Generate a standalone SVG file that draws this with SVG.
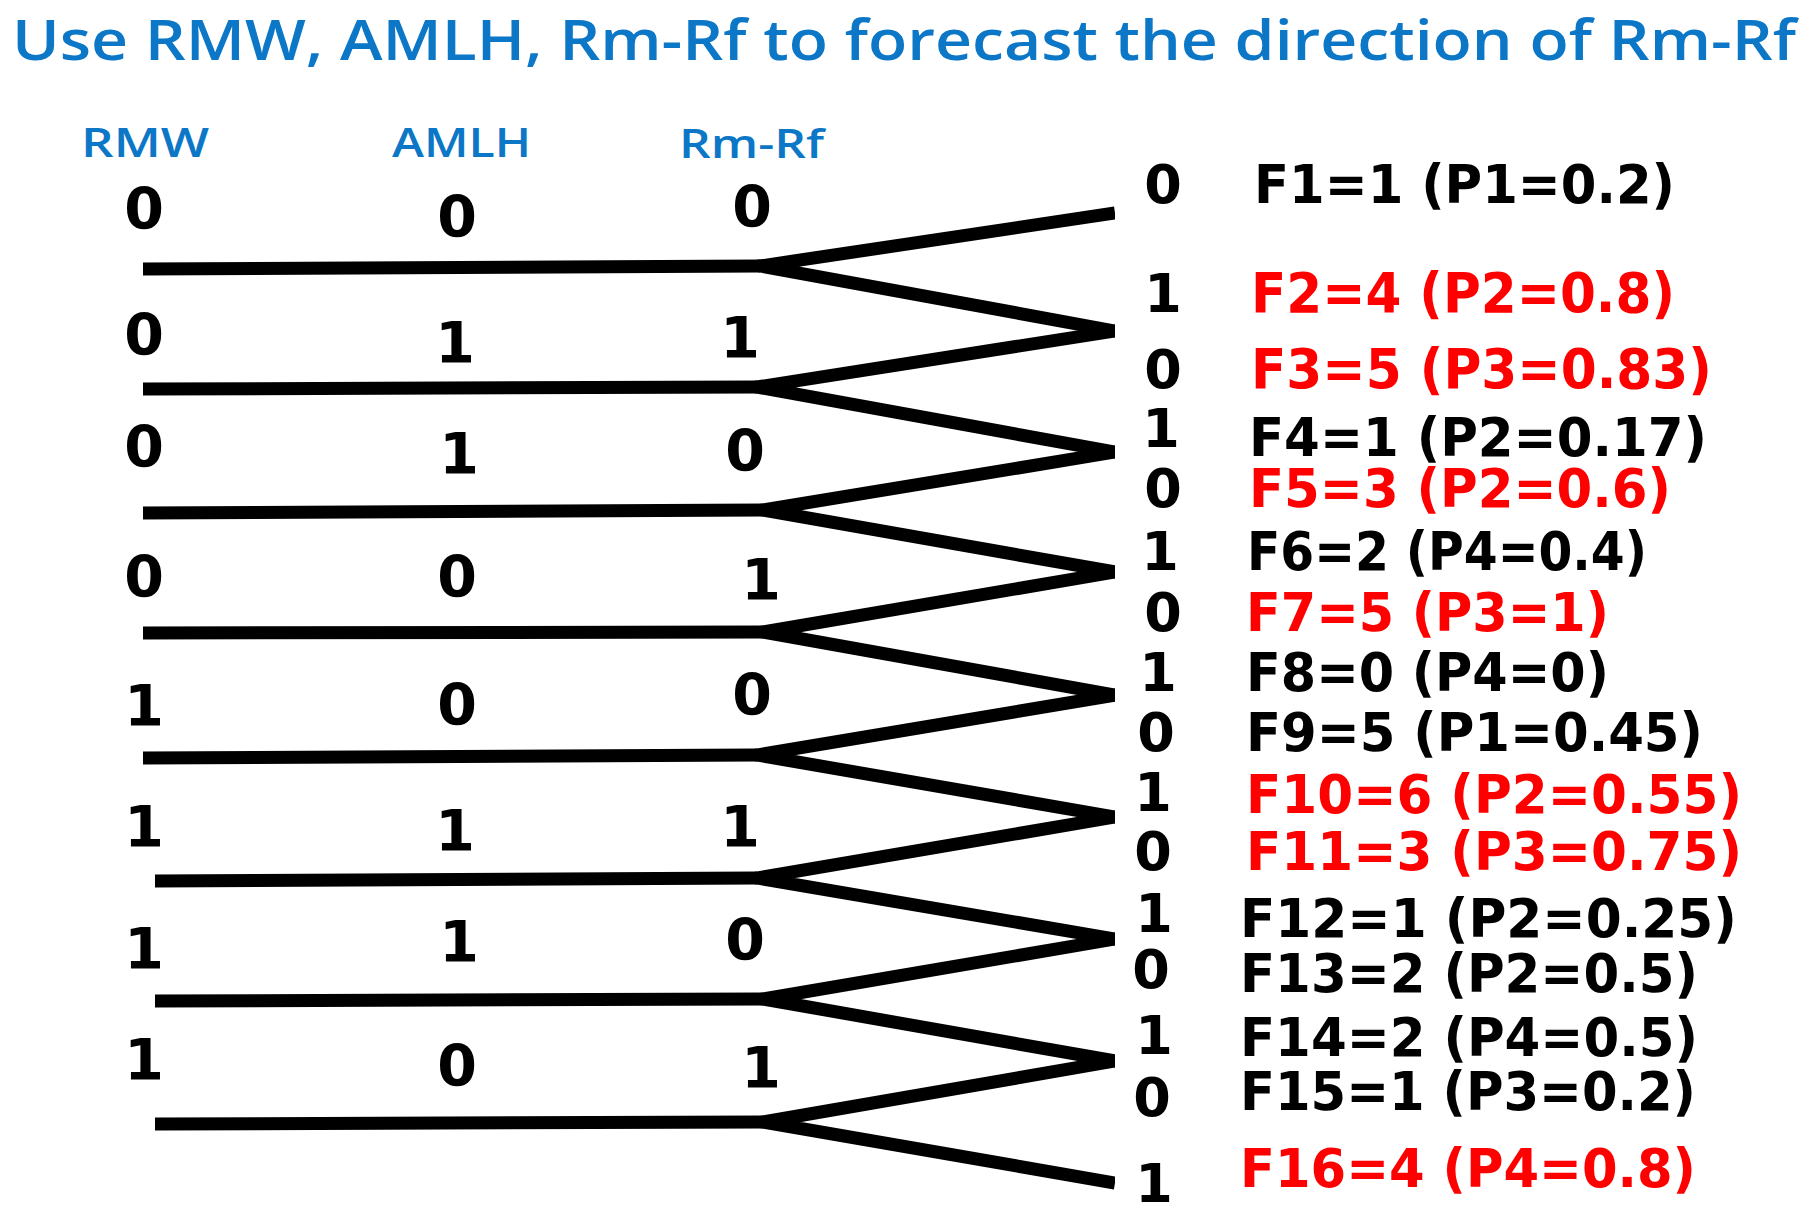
<svg xmlns="http://www.w3.org/2000/svg" width="1819" height="1220" viewBox="0 0 1819 1220">
<defs>
<style>
.title{font-family:"Open Sans","Noto Sans",sans-serif;font-weight:600;font-size:56px;fill:#0B77C6}
.hdr{font-family:"Open Sans","Noto Sans",sans-serif;font-weight:600;font-size:40px;fill:#0B77C6}
.dl{font-family:"DejaVu Sans",sans-serif;font-weight:bold;font-size:57px;fill:#000;text-anchor:middle}
.dr{font-family:"DejaVu Sans",sans-serif;font-weight:bold;font-size:54px;fill:#000;text-anchor:middle}
.lb{font-family:"DejaVu Sans",sans-serif;font-weight:bold;font-size:54px;fill:#000}
.red{fill:#FF0000}
.big{font-size:56px}
.ln{fill:none;stroke:#000;stroke-width:13;stroke-linecap:butt;stroke-linejoin:miter;stroke-miterlimit:10}
</style>
<clipPath id="cl"><rect x="0" y="0" width="1115" height="1220"/></clipPath>
</defs>
<rect width="1819" height="1220" fill="#fff"/>
<text class="title" x="12" y="60" textLength="1784" lengthAdjust="spacingAndGlyphs">Use RMW, AMLH, Rm-Rf to forecast the direction of Rm-Rf</text>
<g id="headers">
<text class="hdr" x="81" y="157" textLength="128" lengthAdjust="spacingAndGlyphs">RMW</text>
<text class="hdr" x="392" y="157" textLength="139" lengthAdjust="spacingAndGlyphs">AMLH</text>
<text class="hdr" x="679" y="158" textLength="145" lengthAdjust="spacingAndGlyphs">Rm-Rf</text>
</g>
<g id="connectors" clip-path="url(#cl)">
<path class="ln" d="M143,269 L760,266"/>
<path class="ln" d="M143,389 L757,387"/>
<path class="ln" d="M143,513 L763,510"/>
<path class="ln" d="M143,633 L763,632"/>
<path class="ln" d="M143,758 L757,755"/>
<path class="ln" d="M155,881 L757,878"/>
<path class="ln" d="M155,1001 L763,999"/>
<path class="ln" d="M155,1124 L763,1122"/>
<path class="ln" d="M1115,213 L760,266 L1126,333"/>
<path class="ln" d="M1126,329.3 L757,387 L1126,454"/>
<path class="ln" d="M1126,450.2 L763,510 L1126,573.9"/>
<path class="ln" d="M1126,570.1 L763,632 L1126,697"/>
<path class="ln" d="M1126,693.2 L757,755 L1126,818.9"/>
<path class="ln" d="M1126,815.1 L757,878 L1126,940.9"/>
<path class="ln" d="M1126,937.1 L763,999 L1126,1062.9"/>
<path class="ln" d="M1126,1059.1 L763,1122 L1115,1183"/>
</g>
<g id="row1"><text class="dl" x="144" y="229">0</text><text class="dl" x="457" y="237">0</text><text class="dl" x="752" y="227">0</text></g>
<g id="row2"><text class="dl" x="144" y="355">0</text><text class="dl" x="455" y="363">1</text><text class="dl" x="740" y="358">1</text></g>
<g id="row3"><text class="dl" x="144" y="467">0</text><text class="dl" x="459" y="474">1</text><text class="dl" x="745" y="471">0</text></g>
<g id="row4"><text class="dl" x="144" y="597">0</text><text class="dl" x="457" y="597">0</text><text class="dl" x="761" y="600">1</text></g>
<g id="row5"><text class="dl" x="144" y="726">1</text><text class="dl" x="457" y="725">0</text><text class="dl" x="752" y="715">0</text></g>
<g id="row6"><text class="dl" x="144" y="847">1</text><text class="dl" x="455" y="851">1</text><text class="dl" x="740" y="847">1</text></g>
<g id="row7"><text class="dl" x="144" y="969">1</text><text class="dl" x="459" y="962">1</text><text class="dl" x="745" y="960">0</text></g>
<g id="row8"><text class="dl" x="144" y="1080">1</text><text class="dl" x="457" y="1086">0</text><text class="dl" x="761" y="1088">1</text></g>
<g id="leaf1"><text class="dr" x="1163" y="203">0</text><text class="lb" x="1254" y="203" textLength="421" lengthAdjust="spacingAndGlyphs">F1=1 (P1=0.2)</text></g>
<g id="leaf2"><text class="dr" x="1163" y="312">1</text><text class="lb red big" x="1251" y="312" textLength="424" lengthAdjust="spacingAndGlyphs">F2=4 (P2=0.8)</text></g>
<g id="leaf3"><text class="dr" x="1163" y="388">0</text><text class="lb red big" x="1251" y="388" textLength="461" lengthAdjust="spacingAndGlyphs">F3=5 (P3=0.83)</text></g>
<g id="leaf4"><text class="dr" x="1161" y="447">1</text><text class="lb" x="1249" y="456" textLength="458" lengthAdjust="spacingAndGlyphs">F4=1 (P2=0.17)</text></g>
<g id="leaf5"><text class="dr" x="1163" y="507">0</text><text class="lb red" x="1249" y="507" textLength="422" lengthAdjust="spacingAndGlyphs">F5=3 (P2=0.6)</text></g>
<g id="leaf6"><text class="dr" x="1160" y="570">1</text><text class="lb" x="1247" y="570" textLength="400" lengthAdjust="spacingAndGlyphs">F6=2 (P4=0.4)</text></g>
<g id="leaf7"><text class="dr" x="1163" y="631">0</text><text class="lb red" x="1246" y="631" textLength="363" lengthAdjust="spacingAndGlyphs">F7=5 (P3=1)</text></g>
<g id="leaf8"><text class="dr" x="1158" y="691">1</text><text class="lb" x="1246" y="691" textLength="363" lengthAdjust="spacingAndGlyphs">F8=0 (P4=0)</text></g>
<g id="leaf9"><text class="dr" x="1156" y="751">0</text><text class="lb" x="1246" y="751" textLength="457" lengthAdjust="spacingAndGlyphs">F9=5 (P1=0.45)</text></g>
<g id="leaf10"><text class="dr" x="1153" y="811">1</text><text class="lb red" x="1246" y="813" textLength="496" lengthAdjust="spacingAndGlyphs">F10=6 (P2=0.55)</text></g>
<g id="leaf11"><text class="dr" x="1153" y="870">0</text><text class="lb red" x="1246" y="870" textLength="496" lengthAdjust="spacingAndGlyphs">F11=3 (P3=0.75)</text></g>
<g id="leaf12"><text class="dr" x="1154" y="932">1</text><text class="lb" x="1240" y="937" textLength="497" lengthAdjust="spacingAndGlyphs">F12=1 (P2=0.25)</text></g>
<g id="leaf13"><text class="dr" x="1151" y="988">0</text><text class="lb" x="1240" y="992" textLength="458" lengthAdjust="spacingAndGlyphs">F13=2 (P2=0.5)</text></g>
<g id="leaf14"><text class="dr" x="1154" y="1054">1</text><text class="lb" x="1240" y="1056" textLength="458" lengthAdjust="spacingAndGlyphs">F14=2 (P4=0.5)</text></g>
<g id="leaf15"><text class="dr" x="1152" y="1116">0</text><text class="lb" x="1240" y="1110" textLength="456" lengthAdjust="spacingAndGlyphs">F15=1 (P3=0.2)</text></g>
<g id="leaf16"><text class="dr" x="1154" y="1202">1</text><text class="lb red" x="1240" y="1187" textLength="456" lengthAdjust="spacingAndGlyphs">F16=4 (P4=0.8)</text></g>
</svg>
